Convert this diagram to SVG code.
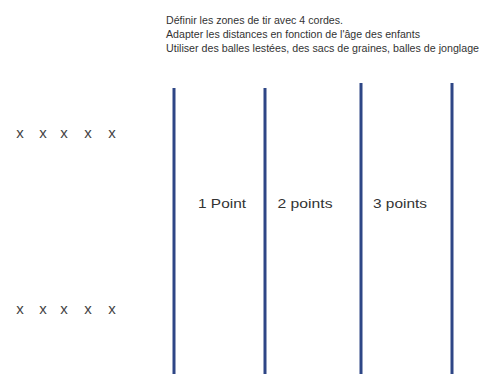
<svg xmlns="http://www.w3.org/2000/svg" width="483" height="374" viewBox="0 0 483 374">
<style>
.hdr{font-family:"Liberation Sans",Arial,sans-serif;font-size:10.5px;fill:#333}
.lbl{font-family:"Liberation Sans",Arial,sans-serif;font-size:13px;fill:#333;text-anchor:middle}
.x{font-family:"Liberation Sans",Arial,sans-serif;font-size:15px;fill:#444;text-anchor:middle}
.rope{stroke:#2e4686;stroke-width:3;fill:none}
</style>
<rect width="483" height="374" fill="#fff"/>
<g id="header">
<text class="hdr" x="166" y="24" textLength="177" lengthAdjust="spacingAndGlyphs">Définir les zones de tir avec 4 cordes.</text>
<text class="hdr" x="166" y="38" textLength="254" lengthAdjust="spacingAndGlyphs">Adapter les distances en fonction de l'âge des enfants</text>
<text class="hdr" x="166" y="52" textLength="313" lengthAdjust="spacingAndGlyphs">Utiliser des balles lestées, des sacs de graines, balles de jonglage</text>
</g>
<g id="row-top">
<text class="x" x="20" y="138">x</text>
<text class="x" x="43" y="138">x</text>
<text class="x" x="64" y="138">x</text>
<text class="x" x="88" y="138">x</text>
<text class="x" x="112" y="138">x</text>
</g>
<g id="row-bottom">
<text class="x" x="20" y="314">x</text>
<text class="x" x="43" y="314">x</text>
<text class="x" x="64" y="314">x</text>
<text class="x" x="88" y="314">x</text>
<text class="x" x="112" y="314">x</text>
</g>
<g id="ropes">
<line class="rope" x1="174" y1="88" x2="174" y2="374"/>
<line class="rope" x1="265" y1="88" x2="265" y2="374"/>
<line class="rope" x1="361" y1="83" x2="361" y2="374"/>
<line class="rope" x1="452" y1="83" x2="452" y2="374"/>
</g>
<g id="labels">
<text class="lbl" x="222" y="208" textLength="48" lengthAdjust="spacingAndGlyphs">1 Point</text>
<text class="lbl" x="305" y="208" textLength="55" lengthAdjust="spacingAndGlyphs">2 points</text>
<text class="lbl" x="400" y="208" textLength="54" lengthAdjust="spacingAndGlyphs">3 points</text>
</g>
</svg>
